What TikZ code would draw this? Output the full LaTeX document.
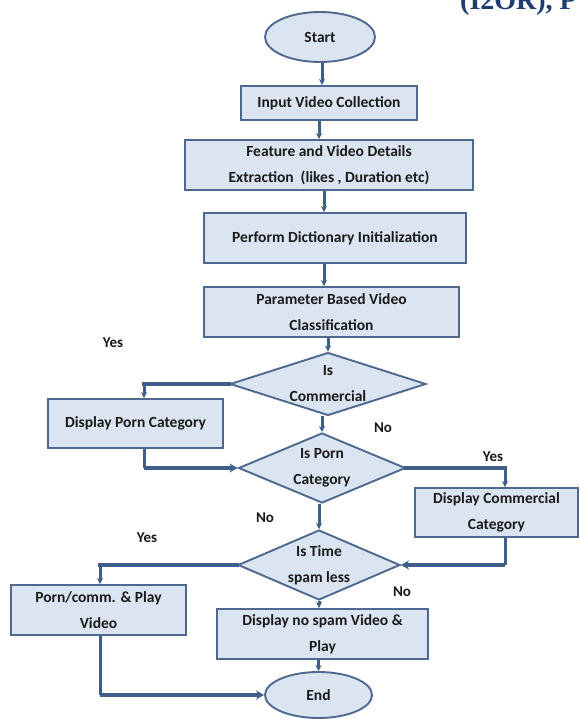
\documentclass[tikz,border=0pt]{standalone}
\usepackage{fontspec}
\setmainfont{Carlito}
\newfontfamily\serifb{Liberation Serif}
\usetikzlibrary{shapes.geometric,arrows.meta}
\definecolor{boxfill}{HTML}{DBE5F1}
\definecolor{boxline}{HTML}{4F6890}
\definecolor{conn}{HTML}{3F5F8A}
\definecolor{hdr}{HTML}{1F3D73}
\definecolor{txt}{HTML}{1A1A1A}
\begin{document}
\begin{tikzpicture}[x=1pt,y=-1pt,
 box/.style={draw=boxline, fill=boxfill, line width=1.9pt, inner sep=0pt, align=center, text=txt, font=\bfseries\fontsize{15.5}{26}\selectfont},
 term/.style={ellipse, draw=boxline, fill=boxfill, line width=1.9pt, inner sep=0pt, text=txt, font=\bfseries\fontsize{15.5}{26}\selectfont},
 dia/.style={diamond, draw=boxline, fill=boxfill, line width=1.9pt, inner sep=0pt},
 dtext/.style={align=center, text=txt, font=\bfseries\fontsize{15.5}{26}\selectfont, inner sep=0pt},
 lbl/.style={font=\bfseries\fontsize{15}{16}\selectfont, text=txt, inner sep=0pt},
 vl/.style={draw=conn, line width=3pt, -{Stealth[length=6pt,width=6pt]}},
 vlp/.style={draw=conn, line width=3pt},
 hl/.style={draw=conn, line width=4.8pt, line cap=rect},
 hla/.style={draw=conn, line width=4.8pt, -{Stealth[length=8pt,width=9pt]}}
]
\useasboundingbox[fill=white] (0,0) rectangle (579,719);

% header (cut off at top)
\node[font=\serifb\bfseries\fontsize{28}{30}\selectfont, text=hdr, anchor=base west, inner sep=0pt] (hdr) at (460,10) {(I2OR), P};

% nodes
\node[term, minimum width=110pt, minimum height=50pt] (start) at (320,37) {Start};
\node[box, minimum width=176pt, minimum height=34pt] (input) at (329,103) {Input Video Collection};
\node[box, minimum width=288pt, minimum height=50pt] (feature) at (329,165) {Feature and Video Details\\Extraction~ (likes , Duration etc)};
\node[box, minimum width=262pt, minimum height=50pt] (perform) at (335,238) {Perform Dictionary Initialization};
\node[box, minimum width=255pt, minimum height=50pt] (param) at (331.5,312) {Parameter Based Video\\Classification};
\node[dia, minimum width=196pt, minimum height=63pt] (iscomm) at (328,384) {};
\node[dtext] (iscommt) at (iscomm) {Is\\Commercial};
\node[box, minimum width=175pt, minimum height=49pt] (dporn) at (135.5,423.5) {Display Porn Category};
\node[dia, minimum width=167pt, minimum height=70pt] (isporn) at (322,468) {};
\node[dtext] (ispornt) at (isporn) {Is Porn\\Category};
\node[box, minimum width=163pt, minimum height=49pt] (dcomm) at (496.5,512.5) {Display Commercial\\Category};
\node[dia, minimum width=162pt, minimum height=70pt] (istime) at (319,565) {};
\node[dtext] (istimet) at (istime) {Is Time\\spam less};
\node[box, minimum width=175pt, minimum height=50pt] (pcplay) at (98.5,610) {Porn/comm. \& Play\\Video};
\node[box, minimum width=211pt, minimum height=50pt] (nospam) at (322.5,634) {Display no spam Video \&\\Play};
\node[term, minimum width=107pt, minimum height=46pt] (end) at (318.5,695) {End};

% labels
\node[lbl] (y1) at (113,343) {Yes};
\node[lbl] (n1) at (383,428) {No};
\node[lbl] (y2) at (493,457) {Yes};
\node[lbl] (n2) at (265,518) {No};
\node[lbl] (y3) at (147,538) {Yes};
\node[lbl] (n3) at (402,592) {No};

% guide coordinates
\coordinate (xa) at (322,0);
\coordinate (xb) at (319,0);
\coordinate (xc) at (324,0);
\coordinate (bl) at (144,0);
\coordinate (br) at (505,0);
\coordinate (bb) at (100,0);

% main chain
\draw[vl] (start.south -| xa) -- (input.north -| xa);
\draw[vl] (input.south -| xb) -- (feature.north -| xb);
\draw[vl] (feature.south -| xc) -- (perform.north -| xc);
\draw[vl] (perform.south -| xc) -- (param.north -| xc);
\draw[vl] (param.south -| iscomm.north) -- (iscomm.north);
\draw[vl] (iscomm.south -| isporn.north) -- (isporn.north);
\draw[vl] (isporn.south -| istime.north) -- (istime.north);
\draw[vl] (istime.south) -- (istime.south |- nospam.north);
\draw[vl] (nospam.south -| end.north) -- (end.north);

% Is Commercial -> Yes -> Display Porn Category -> Is Porn
\draw[hl] (iscomm.west) -- (iscomm.west -| bl);
\draw[vl] (iscomm.west -| bl) -- (dporn.north -| bl);
\draw[vlp] (dporn.south -| bl) -- (isporn.west -| bl);
\draw[hla] (isporn.west -| bl) -- (isporn.west);

% Is Porn -> Yes -> Display Commercial -> Is Time
\draw[hl] (isporn.east) -- (isporn.east -| br);
\draw[vl] (isporn.east -| br) -- (dcomm.north -| br);
\draw[vlp] (dcomm.south -| br) -- (istime.east -| br);
\draw[hla] (istime.east -| br) -- (istime.east);

% Is Time -> Yes -> Porn/comm -> End
\draw[hl] (istime.west) -- (istime.west -| bb);
\draw[vl] (istime.west -| bb) -- (pcplay.north -| bb);
\draw[vlp] (pcplay.south -| bb) -- (end.west -| bb);
\draw[hla] (end.west -| bb) -- (end.west);
\end{tikzpicture}
\end{document}
